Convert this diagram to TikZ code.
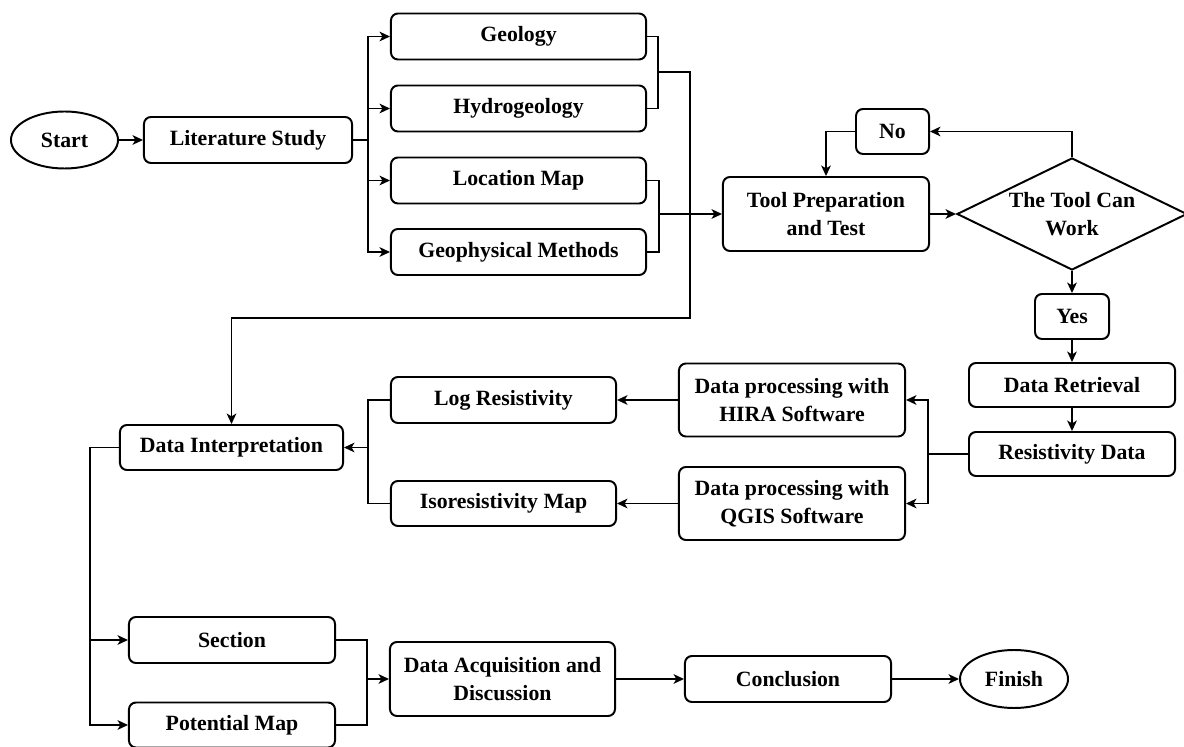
\documentclass[tikz,border=0pt]{standalone}
\usepackage{fontspec}
\setmainfont{Liberation Serif}
\usepackage{tikz}
\usetikzlibrary{arrows.meta,shapes.geometric}
\tikzset{
  line/.style={draw=black, line width=1.4pt},
  aline/.style={line, -{Stealth[length=2.6mm, width=2.4mm, inset=0.7mm]}},
  box/.style={draw=black, line width=1.4pt, rounded corners=5pt, align=center,
    inner sep=0pt, font=\bfseries\fontsize{15.5}{19.5}\selectfont},
  term/.style={ellipse, draw=black, line width=1.4pt, inner sep=0pt,
    font=\bfseries\fontsize{15.5}{19.5}\selectfont},
  decision/.style={diamond, draw=black, line width=1.4pt, inner sep=0pt, shape aspect=2,
    align=center, font=\bfseries\fontsize{15.5}{19.5}\selectfont}
}
\begin{document}
\begin{tikzpicture}[x=0.025cm, y=-0.025cm]
  \useasboundingbox (0,0) rectangle (1184,747);

  % first row
  \node[term, minimum width=2.675cm, minimum height=1.425cm] (start) at (64.5,140) {Start};
  \node[box, minimum width=5.2cm, minimum height=1.15cm] (lit) at (248,140) {Literature Study};
  \node[box, minimum width=6.375cm, minimum height=1.15cm] (geo) at (518.5,36.5) {Geology};
  \node[box, minimum width=6.375cm, minimum height=1.15cm] (hyd) at (518.5,108.5) {Hydrogeology};
  \node[box, minimum width=6.375cm, minimum height=1.15cm] (loc) at (518.5,180.5) {Location Map};
  \node[box, minimum width=6.375cm, minimum height=1.15cm] (gph) at (518.5,252) {Geophysical Methods};
  \node[box, minimum width=5.15cm, minimum height=1.85cm] (tool) at (826,214) {Tool Preparation\\and Test};
  \node[decision, minimum width=5.75cm, minimum height=2.8cm] (dec) at (1072,214) {The Tool Can\\Work};
  \node[box, minimum width=1.825cm, minimum height=1.125cm] (no) at (892.5,131.5) {No};
  \node[box, minimum width=1.85cm, minimum height=1.125cm] (yes) at (1072,316.5) {Yes};
  \node[box, minimum width=5.15cm, minimum height=1.1cm] (ret) at (1072,385) {Data Retrieval};
  \node[box, minimum width=5.15cm, minimum height=1.1cm] (res) at (1072,454) {Resistivity Data};

  % processing
  \node[box, minimum width=5.65cm, minimum height=1.825cm] (hira) at (792,400) {Data processing with\\HIRA Software};
  \node[box, minimum width=5.65cm, minimum height=1.825cm] (qgis) at (792,503.5) {Data processing with\\QGIS Software};
  \node[box, minimum width=5.625cm, minimum height=1.15cm] (logr) at (503.5,400) {Log Resistivity};
  \node[box, minimum width=5.625cm, minimum height=1.125cm] (iso) at (503.5,503.5) {Isoresistivity Map};
  \node[box, minimum width=5.575cm, minimum height=1.125cm] (di) at (231.5,447.5) {Data Interpretation};

  % last row
  \node[box, minimum width=5.15cm, minimum height=1.15cm] (sec) at (232,640) {Section};
  \node[box, minimum width=5.15cm, minimum height=1.125cm] (pot) at (232,725) {Potential Map};
  \node[box, minimum width=5.625cm, minimum height=1.85cm] (dad) at (502.5,679) {Data Acquisition and\\Discussion};
  \node[box, minimum width=5.15cm, minimum height=1.15cm] (con) at (788,679) {Conclusion};
  \node[term, minimum width=2.7cm, minimum height=1.45cm] (fin) at (1014,679) {Finish};

  % junctions
  \coordinate (b1) at (368,140);
  \coordinate (m1) at (658,72);
  \coordinate (c1) at (690,318);
  \coordinate (m2) at (659,214);
  \coordinate (s1) at (928,454);
  \coordinate (m3) at (368,447.5);
  \coordinate (b2) at (90,447.5);
  \coordinate (m4) at (367,679);

  \draw[aline] (start) -- (lit);
  \draw[line] (lit.east) -- (b1);
  \foreach \n in {geo,hyd,loc,gph}
    \draw[aline] (b1) |- (\n.west);

  \draw[line] (geo.east) -| (m1) |- (hyd.east);
  \draw[aline] (m1) -| (c1) -| (di.north);
  \draw[line] (loc.east) -| (m2) |- (gph.east);
  \draw[aline] (m2) -- (tool.west);

  \draw[aline] (tool.east) -- (dec.west);
  \draw[aline] (dec.north) |- (no.east);
  \draw[aline] (no.west) -| (tool.north);
  \draw[aline] (dec.south) -- (yes.north);
  \draw[aline] (yes.south) -- (ret.north);
  \draw[aline] (ret.south) -- (res.north);

  \draw[line] (res.west) -- (s1);
  \draw[aline] (s1) |- (hira.east);
  \draw[aline] (s1) |- (qgis.east);
  \draw[aline] (hira.west) -- (logr.east);
  \draw[aline] (qgis.west) -- (iso.east);

  \draw[line] (logr.west) -| (m3) |- (iso.west);
  \draw[aline] (m3) -- (di.east);
  \draw[line] (di.west) -- (b2);
  \draw[aline] (b2) |- (sec.west);
  \draw[aline] (b2) |- (pot.west);

  \draw[line] (sec.east) -| (m4) |- (pot.east);
  \draw[aline] (m4) -- (dad.west);
  \draw[aline] (dad) -- (con);
  \draw[aline] (con) -- (fin);
\end{tikzpicture}
\end{document}
